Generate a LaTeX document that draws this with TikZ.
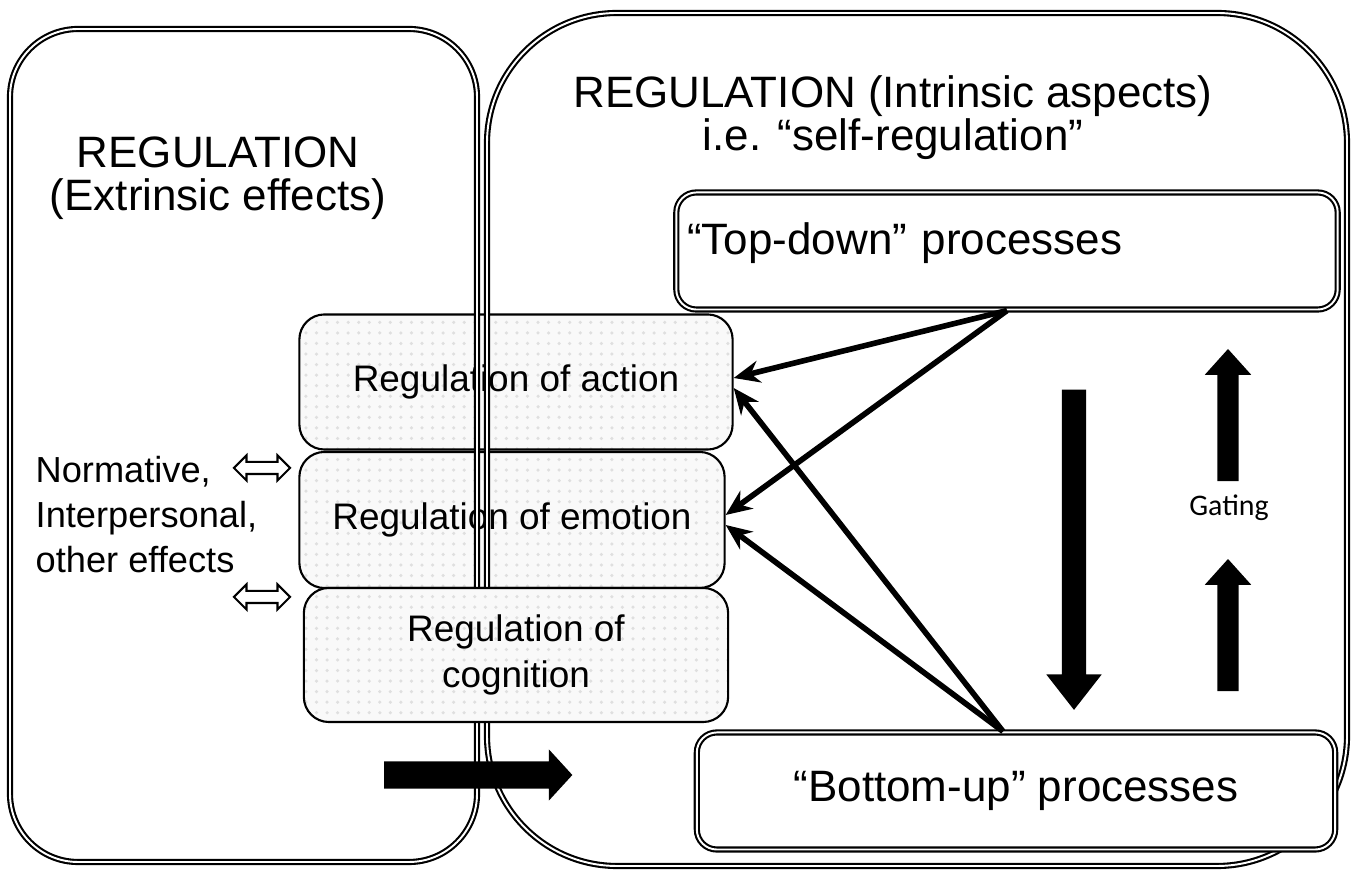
\documentclass[tikz,border=0pt]{standalone}
\usepackage{fontspec}
\setmainfont{Liberation Sans}
\newfontfamily\gatingfont{Carlito}
\usetikzlibrary{arrows.meta,shapes.arrows,patterns}

\begin{document}
\begin{tikzpicture}[x=0.01cm, y=-0.01cm,
    frame/.style={draw, double, double distance=0.55pt, line width=0.6pt},
    regbox/.style={draw, line width=0.6pt, rounded corners=0.25cm, preaction={fill=gray!5}, pattern=dots, pattern color=gray!25, inner sep=0pt, align=center, font=\fontsize{10.5}{13}\selectfont},
    procbox/.style={frame, fill=white, rounded corners=0.2cm, inner sep=0pt, font=\fontsize{12.5}{15}\selectfont},
    title/.style={align=center, font=\fontsize{12.5}{12.3}\selectfont},
    flow/.style={-{Stealth[length=0.26cm, width=0.22cm]}, line width=1.6pt},
    block/.style={single arrow, fill=black, inner xsep=0pt},
    twoway/.style={double arrow, draw, fill=white, line width=0.6pt, inner xsep=0pt, inner ysep=0.05cm, minimum height=0.56cm, minimum width=0.23cm, double arrow head extend=0.065cm}]
            \useasboundingbox (0, 0) rectangle (1357, 871);
            \node[regbox, minimum width=4.33cm, minimum height=1.35cm](1) at (516, 382) {Regulation of action};
            \node[regbox, minimum width=4.25cm, minimum height=1.36cm](2) at (512, 520) {Regulation of emotion};
            \draw[frame, rounded corners=0.68cm] (10, 29) rectangle (477, 862);
            \draw[frame, rounded corners=1.3cm] (487, 13) rectangle (1347, 866);
            \node[regbox, minimum width=4.24cm, minimum height=1.34cm](3) at (516, 655) {Regulation of\\cognition};
            \node[procbox, minimum width=6.61cm, minimum height=1.17cm, text width=6.39cm, align=left, text height=0.3cm, text depth=0.23cm](4) at (1007, 251) {“Top-down” processes};
            \node[procbox, minimum width=6.38cm, minimum height=1.17cm](5) at (1016, 791) {“Bottom-up” processes};
            \node[title](6) at (218, 178) {REGULATION\\(Extrinsic effects)};
            \node[title](7) at (893, 118) {REGULATION (Intrinsic aspects)\\i.e. “self-regulation”};
            \node[anchor=west, align=left, inner sep=0pt, font=\fontsize{10.3}{12.8}\selectfont](8) at (35, 515) {Normative,\\Interpersonal,\\other effects};
            \node[twoway](9) at (262, 468) {};
            \node[twoway](10) at (262, 597) {};
            \path[flow] (4.south) edge ([yshift=0.04cm]1.east) (4.south) edge ([yshift=0.05cm]2.east);
            \path[flow] ([xshift=-0.13cm]5.north) edge ([yshift=-0.06cm]1.east) ([xshift=-0.13cm]5.north) edge ([yshift=-0.05cm]2.east);
            \node[block, rotate=-90, inner ysep=0.115cm, minimum height=3.2cm, minimum width=0.54cm, single arrow head extend=0.155cm, single arrow tip angle=76](11) at (1074, 542) {};
            \node[block, rotate=90, inner ysep=0.1cm, minimum height=1.32cm, minimum width=0.45cm, single arrow head extend=0.125cm, single arrow tip angle=84](12) at (1228, 421) {};
            \node[block, rotate=90, inner ysep=0.1cm, minimum height=1.32cm, minimum width=0.45cm, single arrow head extend=0.125cm, single arrow tip angle=84](13) at (1228, 631) {};
            \node[block, inner ysep=0.13cm, minimum height=1.88cm, minimum width=0.5cm, single arrow head extend=0.12cm, single arrow tip angle=95](14) at (472, 775) {};
            \node[font=\gatingfont\fontsize{8.5}{10}\selectfont](15) at (1229, 508) {Gating};
        \end{tikzpicture}
\end{document}
